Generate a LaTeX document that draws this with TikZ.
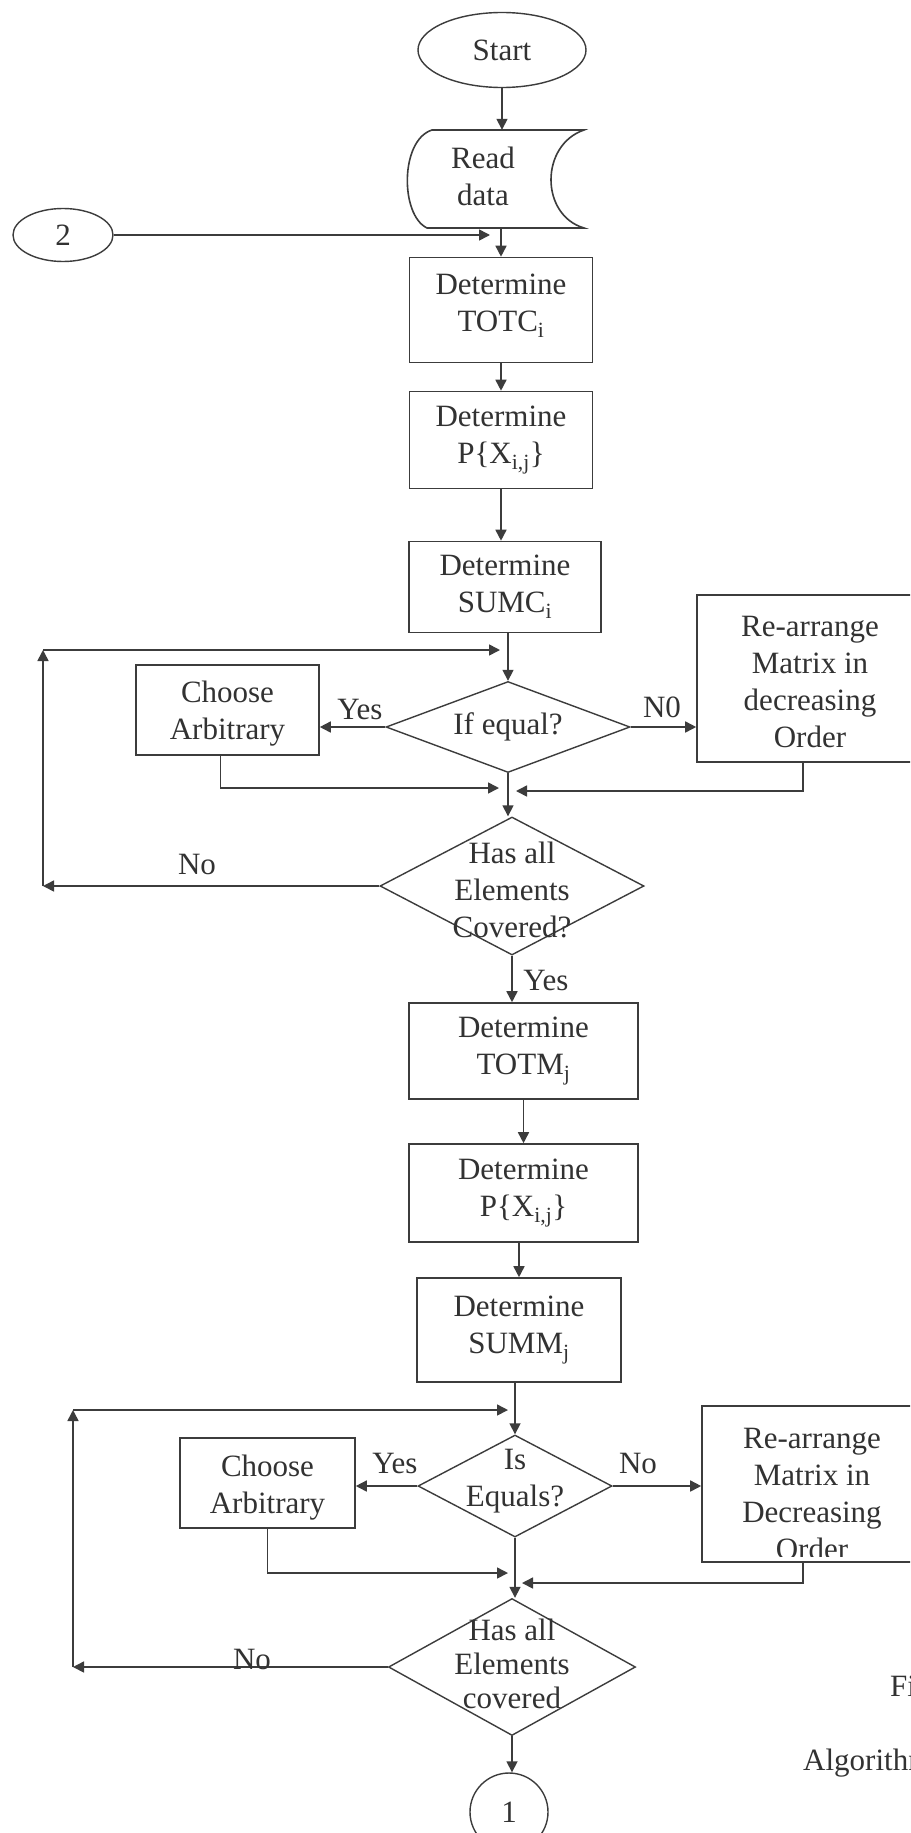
\documentclass[tikz,border=0pt]{standalone}
\usepackage{fontspec}
\setmainfont{Liberation Serif}
\usetikzlibrary{shapes.geometric,arrows.meta,calc}
\definecolor{ink}{RGB}{60,60,60}
\definecolor{txt}{RGB}{50,50,50}
\begin{document}
\begin{tikzpicture}[x=1pt,y=-1pt,
  every node/.style={font=\fontsize{31}{37}\selectfont, text=txt, align=center, inner sep=0pt},
  box/.style={draw=ink, line width=1.6pt, rectangle},
  dia/.style={draw=ink, line width=1.4pt, diamond},
  oval/.style={draw=ink, line width=1.4pt, ellipse},
  ln/.style={draw=ink, line width=1.6pt},
  arr/.style={ln, -{Triangle[length=11pt,width=11pt]}}
]
\useasboundingbox (0,0) rectangle (910,1833);
\fill[white] (0,0) rectangle (910,1833);
\clip (0,0) rectangle (910,1833);

% ---- top part
\node[oval, minimum width=168, minimum height=75] (start) at (502,50) {Start};
\node[minimum width=176, minimum height=98] (read) at (496,179) {};
\draw[ln] (432,130) -- (584,130)
  .. controls (540,145) and (540,215) .. (584,228)
  -- (427,228)
  .. controls (400,215) and (400,140) .. (432,130) -- cycle;
\node (readt) at (483,176) {Read\\data};
\node[oval, minimum width=100, minimum height=53] (two) at (63,235) {2};
\coordinate (tip2) at (490,235);

\node[box, minimum width=183, minimum height=105] (totc) at (501,310) {};
\node (totct) at (501,306) {Determine\\TOTC\textsubscript{i}};
\node[box, minimum width=183, minimum height=97] (pxij) at (501,440) {Determine\\P\{X\textsubscript{i,j}\}};
\node[box, minimum width=192, minimum height=91] (sumc) at (505,587) {Determine\\SUMC\textsubscript{i}};

\draw[arr] (start) -- (start |- read.north);
\draw[arr] (two) -- (tip2);
\draw[arr] (read.south -| totc) -- (totc.north);
\draw[arr] (totc) -- (pxij);
\draw[arr] (pxij.south) -- (pxij.south |- sumc.north);

% ---- first decision block
\node[dia, minimum width=244, minimum height=91] (d1) at (508,727) {};
\node (d1t) at (d1) {If equal?};
\node[box, minimum width=183, minimum height=90] (choose1) at (227.5,710) {};
\node (choose1t) at (227.5,714) {Choose\\Arbitrary};
\node[box, minimum width=228, minimum height=167] (rearr1) at (811,678.5) {};
\node (rearr1t) at (810,682) {Re-arrange\\Matrix in\\decreasing\\Order};
\draw[arr] (sumc.south -| d1) -- (d1.north);
\draw[arr] (d1.west) -- (d1.west -| choose1.east);
\draw[arr] (d1.east) -- (d1.east -| rearr1.west);
\node (yes1) at (360,709) {Yes};
\node (no1) at (662,707) {N0};

\coordinate (m1l) at (499,788);
\coordinate (m1r) at (516,791);
\draw[arr] ($(choose1.south)+(-7,0)$) |- (m1l);
\draw[arr] ($(rearr1.south)+(-8,0)$) |- (m1r);

\node[dia, minimum width=264, minimum height=138] (d2) at (512,886) {};
\node (d2t) at (512,890) {Has all\\Elements\\Covered?};
\draw[arr] (d1.south) -- (d1.south |- d2.north);

\coordinate (lb1) at (43,886);
\coordinate (lt1) at (43,650);
\coordinate (lr1) at (500,650);
\draw[arr] (d2.west) -- (lb1);
\draw[arr] (lb1) -- (lt1);
\draw[arr] (lt1) -- (lr1);
\node (nol1) at (197,864) {No};

% ---- second part
\node[box, minimum width=229, minimum height=96] (totm) at (523.5,1051) {Determine\\TOTM\textsubscript{j}};
\node[box, minimum width=229, minimum height=98] (pxij2) at (523.5,1193) {Determine\\P\{X\textsubscript{i,j}\}};
\node[box, minimum width=204, minimum height=104] (summ) at (519,1330) {Determine\\SUMM\textsubscript{j}};
\draw[arr] (d2.south) -- (d2.south |- totm.north);
\node (yes2) at (546,980) {Yes};
\draw[arr] (totm) -- (pxij2);
\draw[arr] (pxij2.south -| summ) -- (summ.north);

\node[dia, minimum width=194, minimum height=102] (d3) at (515,1486) {};
\node (d3t) at (515,1481) {Is\\Equals?};
\node[box, minimum width=175, minimum height=90] (choose2) at (267.5,1483) {};
\node (choose2t) at (267.5,1488) {Choose\\Arbitrary};
\node[box, minimum width=224, minimum height=156] (rearr2) at (814,1484) {};
\begin{scope}
  \clip (702,1407) rectangle (910,1556);
  \node (rearr2t) at (812,1494) {Re-arrange\\Matrix in\\Decreasing\\Order};
\end{scope}
\draw[arr] (summ.south -| d3) -- (d3.north);
\draw[arr] (d3.west) -- (d3.west -| choose2.east);
\draw[arr] (d3.east) -- (d3.east -| rearr2.west);
\node (yes3) at (395,1463) {Yes};
\node (no3) at (638,1463) {No};

\coordinate (m2l) at (508,1573);
\coordinate (m2r) at (522,1583);
\draw[arr] (choose2.south) |- (m2l);
\draw[arr] ($(rearr2.south)+(-11,0)$) |- (m2r);

\node[dia, minimum width=247, minimum height=137] (d4) at (512,1667) {};
\node[font=\fontsize{31}{34}\selectfont] (d4t) at (512,1664) {Has all\\Elements\\covered};
\draw[arr] (d3.south) -- (d3.south |- d4.north);

\coordinate (lb2) at (73,1667);
\coordinate (lt2) at (73,1410);
\coordinate (lr2) at (508,1410);
\draw[arr] (d4.west) -- (lb2);
\draw[arr] (lb2) -- (lt2);
\draw[arr] (lt2) -- (lr2);
\node (nol2) at (252,1659) {No};

\node[oval, minimum width=78, minimum height=78] (one) at (509,1812) {1};
\draw[arr] (d4.south) -- (d4.south |- one.north);

% ---- clipped caption fragments
\node[anchor=west] (figt) at (890,1690) {Fig};
\node[anchor=west] (algt) at (803,1763) {Algorithm};
\end{tikzpicture}
\end{document}
